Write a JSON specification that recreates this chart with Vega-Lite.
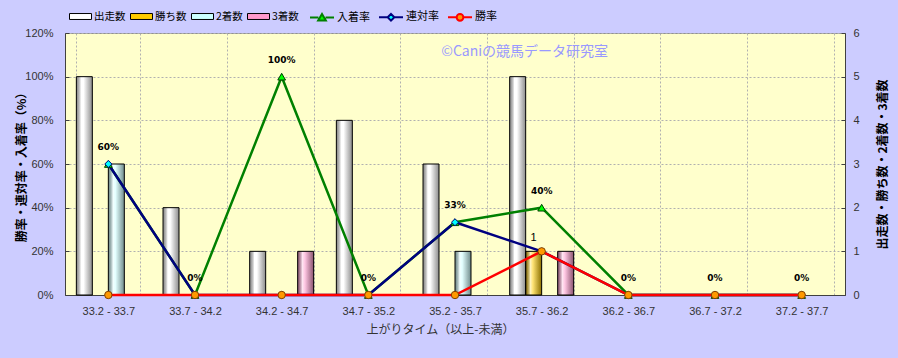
{
  "$schema": "https://vega.github.io/schema/vega-lite/v6.json",
  "width": 780,
  "height": 262,
  "autosize": {"type": "none"},
  "padding": {"left": 65, "top": 33, "right": 53, "bottom": 63},
  "background": "#ccccff",
  "config": {
    "view": {"fill": "#ffffcc", "stroke": "#909090"},
    "font": "Noto Sans CJK JP",
    "axis": {"labelFont": "Liberation Sans", "labelFontSize": 11, "labelColor": "#333333", "titleFont": "Noto Sans CJK JP", "titleFontSize": 12, "titleFontWeight": "bold", "titleColor": "#000000", "domainColor": "#404040", "tickColor": "#404040"}
  },
  "datasets": {
    "counts": [
      {"cat": "33.2 - 33.7", "series": "出走数", "value": 5},
      {"cat": "33.2 - 33.7", "series": "勝ち数", "value": 0},
      {"cat": "33.2 - 33.7", "series": "2着数", "value": 3},
      {"cat": "33.2 - 33.7", "series": "3着数", "value": 0},
      {"cat": "33.7 - 34.2", "series": "出走数", "value": 2},
      {"cat": "33.7 - 34.2", "series": "勝ち数", "value": 0},
      {"cat": "33.7 - 34.2", "series": "2着数", "value": 0},
      {"cat": "33.7 - 34.2", "series": "3着数", "value": 0},
      {"cat": "34.2 - 34.7", "series": "出走数", "value": 1},
      {"cat": "34.2 - 34.7", "series": "勝ち数", "value": 0},
      {"cat": "34.2 - 34.7", "series": "2着数", "value": 0},
      {"cat": "34.2 - 34.7", "series": "3着数", "value": 1},
      {"cat": "34.7 - 35.2", "series": "出走数", "value": 4},
      {"cat": "34.7 - 35.2", "series": "勝ち数", "value": 0},
      {"cat": "34.7 - 35.2", "series": "2着数", "value": 0},
      {"cat": "34.7 - 35.2", "series": "3着数", "value": 0},
      {"cat": "35.2 - 35.7", "series": "出走数", "value": 3},
      {"cat": "35.2 - 35.7", "series": "勝ち数", "value": 0},
      {"cat": "35.2 - 35.7", "series": "2着数", "value": 1},
      {"cat": "35.2 - 35.7", "series": "3着数", "value": 0},
      {"cat": "35.7 - 36.2", "series": "出走数", "value": 5},
      {"cat": "35.7 - 36.2", "series": "勝ち数", "value": 1},
      {"cat": "35.7 - 36.2", "series": "2着数", "value": 0},
      {"cat": "35.7 - 36.2", "series": "3着数", "value": 1},
      {"cat": "36.2 - 36.7", "series": "出走数", "value": 0},
      {"cat": "36.2 - 36.7", "series": "勝ち数", "value": 0},
      {"cat": "36.2 - 36.7", "series": "2着数", "value": 0},
      {"cat": "36.2 - 36.7", "series": "3着数", "value": 0},
      {"cat": "36.7 - 37.2", "series": "出走数", "value": 0},
      {"cat": "36.7 - 37.2", "series": "勝ち数", "value": 0},
      {"cat": "36.7 - 37.2", "series": "2着数", "value": 0},
      {"cat": "36.7 - 37.2", "series": "3着数", "value": 0},
      {"cat": "37.2 - 37.7", "series": "出走数", "value": 0},
      {"cat": "37.2 - 37.7", "series": "勝ち数", "value": 0},
      {"cat": "37.2 - 37.7", "series": "2着数", "value": 0},
      {"cat": "37.2 - 37.7", "series": "3着数", "value": 0}
    ],
    "rates": [
      {"cat": "33.2 - 33.7", "series": "入着率", "rate": 0.6},
      {"cat": "33.7 - 34.2", "series": "入着率", "rate": 0},
      {"cat": "34.2 - 34.7", "series": "入着率", "rate": 1.0},
      {"cat": "34.7 - 35.2", "series": "入着率", "rate": 0},
      {"cat": "35.2 - 35.7", "series": "入着率", "rate": 0.3333},
      {"cat": "35.7 - 36.2", "series": "入着率", "rate": 0.4},
      {"cat": "36.2 - 36.7", "series": "入着率", "rate": 0},
      {"cat": "36.7 - 37.2", "series": "入着率", "rate": 0},
      {"cat": "37.2 - 37.7", "series": "入着率", "rate": 0},
      {"cat": "33.2 - 33.7", "series": "連対率", "rate": 0.6},
      {"cat": "33.7 - 34.2", "series": "連対率", "rate": 0},
      {"cat": "34.2 - 34.7", "series": "連対率", "rate": 0},
      {"cat": "34.7 - 35.2", "series": "連対率", "rate": 0},
      {"cat": "35.2 - 35.7", "series": "連対率", "rate": 0.3333},
      {"cat": "35.7 - 36.2", "series": "連対率", "rate": 0.2},
      {"cat": "36.2 - 36.7", "series": "連対率", "rate": 0},
      {"cat": "36.7 - 37.2", "series": "連対率", "rate": 0},
      {"cat": "37.2 - 37.7", "series": "連対率", "rate": 0},
      {"cat": "33.2 - 33.7", "series": "勝率", "rate": 0},
      {"cat": "33.7 - 34.2", "series": "勝率", "rate": 0},
      {"cat": "34.2 - 34.7", "series": "勝率", "rate": 0},
      {"cat": "34.7 - 35.2", "series": "勝率", "rate": 0},
      {"cat": "35.2 - 35.7", "series": "勝率", "rate": 0},
      {"cat": "35.7 - 36.2", "series": "勝率", "rate": 0.2},
      {"cat": "36.2 - 36.7", "series": "勝率", "rate": 0},
      {"cat": "36.7 - 37.2", "series": "勝率", "rate": 0},
      {"cat": "37.2 - 37.7", "series": "勝率", "rate": 0}
    ],
    "mark": [
      {"cat": "35.7 - 36.2", "rate": 1.115, "label": "©Caniの競馬データ研究室"}
    ]
  },
  "encoding": {
    "x": {
      "field": "cat",
      "type": "nominal",
      "scale": {
        "type": "band",
        "domain": ["33.2 - 33.7", "33.7 - 34.2", "34.2 - 34.7", "34.7 - 35.2", "35.2 - 35.7", "35.7 - 36.2", "36.2 - 36.7", "36.7 - 37.2", "37.2 - 37.7"],
        "paddingInner": 0.262,
        "paddingOuter": 0.131
      },
      "axis": {
        "title": "上がりタイム（以上-未満）",
        "titleX": 375,
        "titleAlign": "center",
        "titlePadding": 8,
        "titleFontWeight": "normal",
        "titleColor": "#333333",
        "labelAngle": 0,
        "labelPadding": 10,
        "ticks": false,
        "tickBand": "extent",
        "grid": true,
        "gridDash": [2, 2],
        "gridColor": "#b0b0b0",
        "domainColor": "#404040"
      }
    }
  },
  "layer": [
    {
      "data": {"name": "counts"},
      "transform": [{"filter": "datum.value > 0"}],
      "encoding": {
        "xOffset": {"field": "series", "type": "nominal", "scale": {"domain": ["出走数", "勝ち数", "2着数", "3着数"], "paddingInner": 0, "paddingOuter": 0}},
        "y": {
          "field": "value",
          "type": "quantitative",
          "scale": {"domain": [0, 6]},
          "axis": {
            "orient": "right",
            "title": "出走数・勝ち数・2着数・3着数",
            "titleAngle": -90,
            "titlePadding": 30,
            "values": [0, 1, 2, 3, 4, 5, 6],
            "grid": false,
            "tickSize": -4,
            "labelPadding": 12
          }
        }
      },
      "layer": [
        {
          "mark": {"type": "bar", "strokeWidth": 0},
          "encoding": {
            "color": {
              "field": "series",
              "type": "nominal",
              "scale": {"domain": ["出走数", "勝ち数", "2着数", "3着数"], "range": ["#ffffff", "#ffcc00", "#ccffff", "#ff99cc"]},
              "legend": {
                "orient": "none",
                "legendX": 4,
                "legendY": -28,
                "direction": "horizontal",
                "title": null,
                "symbolType": "M-1,-0.27H1V0.27H-1Z",
                "symbolSize": 484,
                "symbolStrokeColor": "#000000",
                "symbolStrokeWidth": 1,
                "symbolOpacity": 1,
                "labelFont": "Noto Sans CJK JP",
                "labelFontSize": 10.5,
                "labelColor": "#000000",
                "labelOffset": 2,
                "columnPadding": 2
              }
            }
          }
        },
        {
          "mark": {
            "type": "bar",
            "fill": {
              "gradient": "linear",
              "x1": 0, "y1": 0, "x2": 1, "y2": 0,
              "stops": [
                {"offset": 0, "color": "rgba(0,0,0,0.45)"},
                {"offset": 0.3, "color": "rgba(255,255,255,0.75)"},
                {"offset": 0.45, "color": "rgba(255,255,255,0.45)"},
                {"offset": 1, "color": "rgba(0,0,0,0.45)"}
              ]
            },
            "stroke": "#000000",
            "strokeWidth": 1
          }
        },
        {
          "transform": [{"filter": "datum.series === '勝ち数'"}],
          "mark": {"type": "text", "dy": -13, "fontSize": 11, "font": "Liberation Sans", "color": "#000000"},
          "encoding": {"text": {"field": "value", "type": "quantitative"}}
        }
      ]
    },
    {
      "data": {"name": "rates"},
      "encoding": {
        "y": {
          "field": "rate",
          "type": "quantitative",
          "scale": {"domain": [0, 1.2]},
          "axis": {
            "orient": "left",
            "title": "勝率・連対率・入着率（%）",
            "titlePadding": -4,
            "format": ".0%",
            "values": [0, 0.2, 0.4, 0.6, 0.8, 1.0, 1.2],
            "grid": true,
            "gridDash": [2, 2],
            "gridColor": "#b0b0b0",
            "tickSize": -4,
            "labelPadding": 16
          }
        }
      },
      "layer": [
        {
          "transform": [{"filter": "datum.series === '入着率'"}],
          "mark": {"type": "line", "strokeWidth": 2.5},
          "encoding": {
            "stroke": {
              "field": "series",
              "type": "nominal",
              "scale": {"domain": ["入着率", "連対率", "勝率"], "range": ["#008000", "#000080", "#ff0000"]},
              "legend": {
                "orient": "none",
                "legendX": 244,
                "legendY": -29,
                "direction": "horizontal",
                "title": null,
                "symbolSize": 576,
                "symbolStrokeWidth": 2,
                "symbolOpacity": 1,
                "labelFont": "Noto Sans CJK JP",
                "labelFontSize": 11,
                "labelColor": "#000000",
                "labelOffset": 2,
                "columnPadding": 5
              }
            }
          }
        },
        {
          "transform": [{"filter": "datum.series === '連対率'"}],
          "mark": {"type": "line", "strokeWidth": 2.5},
          "encoding": {"stroke": {"field": "series", "type": "nominal"}}
        },
        {
          "transform": [{"filter": "datum.series === '勝率'"}],
          "mark": {"type": "line", "strokeWidth": 2.5},
          "encoding": {"stroke": {"field": "series", "type": "nominal"}}
        },
        {
          "transform": [{"filter": "false"}],
          "mark": {"type": "point", "filled": true, "opacity": 1},
          "encoding": {
            "stroke": {"field": "series", "type": "nominal"},
            "shape": {
              "field": "series",
              "type": "nominal",
              "scale": {"domain": ["入着率", "連対率", "勝率"], "range": [
                "M-1,0H-0.3M0.3,0H1M0,-0.3L0.32,0.24L-0.32,0.24Z",
                "M-1,0H-0.28M0.28,0H1M0,-0.28L0.28,0L0,0.28L-0.28,0Z",
                "M-1,0H-0.28M0.28,0H1M-0.28,0A0.28,0.28,0,1,1,0.28,0A0.28,0.28,0,1,1,-0.28,0Z"
              ]},
              "legend": {
                "orient": "none",
                "legendX": 244,
                "legendY": -29,
                "direction": "horizontal",
                "title": null,
                "symbolSize": 576,
                "symbolStrokeWidth": 2,
                "symbolOpacity": 1,
                "labelFont": "Noto Sans CJK JP",
                "labelFontSize": 11,
                "labelColor": "#000000",
                "labelOffset": 2,
                "columnPadding": 5
              }
            },
            "fill": {
              "field": "series",
              "type": "nominal",
              "scale": {"domain": ["入着率", "連対率", "勝率"], "range": ["#00ff00", "#00ffff", "#ff9900"]},
              "legend": {
                "orient": "none",
                "legendX": 244,
                "legendY": -29,
                "direction": "horizontal",
                "title": null,
                "symbolSize": 576,
                "symbolStrokeWidth": 2,
                "symbolOpacity": 1,
                "labelFont": "Noto Sans CJK JP",
                "labelFontSize": 11,
                "labelColor": "#000000",
                "labelOffset": 2,
                "columnPadding": 5
              }
            }
          }
        },
        {
          "transform": [{"filter": "datum.series === '入着率'"}],
          "mark": {"type": "point", "shape": "triangle-up", "filled": true, "opacity": 1, "size": 60, "fill": "#00ff00", "stroke": "#004000", "strokeWidth": 1}
        },
        {
          "transform": [{"filter": "datum.series === '連対率'"}],
          "mark": {"type": "point", "shape": "diamond", "filled": true, "opacity": 1, "size": 50, "fill": "#00ffff", "stroke": "#000080", "strokeWidth": 1}
        },
        {
          "transform": [{"filter": "datum.series === '勝率'"}],
          "mark": {"type": "point", "shape": "circle", "filled": true, "opacity": 1, "size": 55, "fill": "#ff9900", "stroke": "#804000", "strokeWidth": 1}
        },
        {
          "transform": [{"filter": "datum.series === '入着率'"}],
          "mark": {"type": "text", "dy": -17, "fontSize": 9, "fontWeight": "bold", "font": "DejaVu Sans", "color": "#000000"},
          "encoding": {"text": {"field": "rate", "type": "quantitative", "format": ".0%"}}
        },
        {
          "data": {"name": "mark"},
          "mark": {"type": "text", "fontSize": 14, "font": "Noto Sans CJK JP", "color": "#9999ff", "dx": -17},
          "encoding": {
            "text": {"field": "label", "type": "nominal"}
          }
        }
      ]
    }
  ],
  "resolve": {"scale": {"y": "independent"}}
}
